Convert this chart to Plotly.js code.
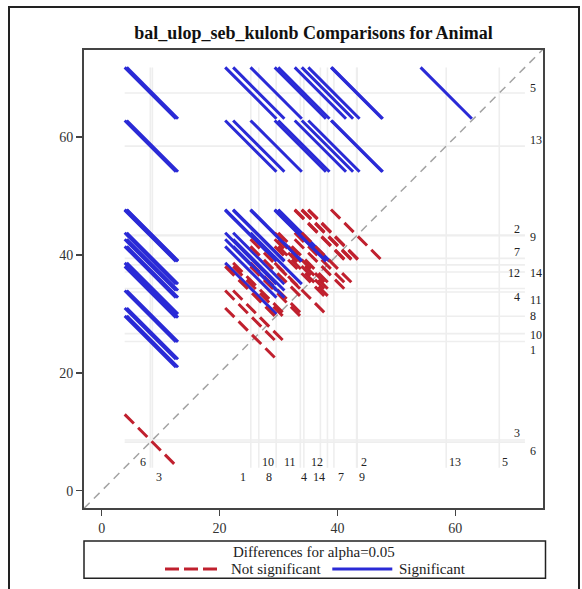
<!DOCTYPE html>
<html>
<head>
<meta charset="utf-8">
<script src="https://cdn.plot.ly/plotly-3.0.1.min.js"></script>
<style>
  html, body { margin: 0; padding: 0; background: #fff; overflow: hidden; }
  #wrap { position: relative; width: 582px; height: 589px; }
  #chart { position: absolute; left: 0; top: 0; width: 582px; height: 589px; }
  #frame { position: absolute; left: 8px; top: 6px; width: 568px; height: 620px;
           border: 2px solid #222; pointer-events: none; }
</style>
</head>
<body>
<div id="wrap">
  <div id="chart"></div>
  <div id="frame"></div>
</div>
<script>
// ---------------- DATA ----------------
const animals = ['1','2','3','4','5','6','7','8','9','10','11','12','13','14'];
const lsmeans = [25.3, 43.35, 8.6, 34.3, 67.45, 8.25, 39.4, 29.6, 43.25, 26.65, 33.7, 37.1, 58.45, 38.3];
// half-width of the 95% confidence interval of a pairwise difference
const diffCI = 8.7;
const alphaLevel = 0.05;

// ---------------- LAYOUT CONSTANTS ----------------
const FONT = 'Liberation Serif, Times New Roman, serif';
const COL_SIG = '#2a2ad6';
const COL_NS = '#c0202e';
const xRange = [-3.0, 74.87];
const yRange = [-2.93, 74.75];
const M = {l: 84, r: 39, t: 50, b: 81};
const W = 582, H = 589;
const plotW = W - M.l - M.r, plotH = H - M.t - M.b;
const pxX = px => (px - M.l) / plotW;          // pixel -> paper x
const pxY = py => (H - M.b - py) / plotH;       // pixel -> paper y

// label placement (pixel shifts relative to the reference line of each animal)
const bottomRow = {'1':2,'2':1,'3':2,'4':2,'5':1,'6':1,'7':2,'8':2,'9':2,'10':1,'11':1,'12':1,'13':1,'14':2};
const bottomShift = {'1':-7.7,'2':6.8,'3':6.6,'4':0,'5':6,'6':-7.7,'7':7.1,'8':-7,'9':5.5,'10':9.7,'11':-10.5,'12':-3.3,'13':8.4,'14':-8.7};
const rightCol = {'1':2,'2':1,'3':1,'4':1,'5':2,'6':2,'7':1,'8':2,'9':2,'10':2,'11':2,'12':1,'13':2,'14':2};
const rightShift = {'1':-8.3,'2':6.2,'3':7,'4':-8.1,'5':5.3,'6':-8.7,'7':6.2,'8':0,'9':-1.2,'10':-1.2,'11':-7.8,'12':-1.2,'13':6.1,'14':-8.3};

// ---------------- TRACES ----------------
const traces = [];
const lo = Math.min(...lsmeans) - diffCI / 2;
const hi = Math.max(...lsmeans) + diffCI / 2;

// reference lines
const refX = [], refY = [];
lsmeans.forEach(m => {
  refX.push(lo, hi, null); refY.push(m, m, null);
  refX.push(m, m, null);   refY.push(lo, hi, null);
});
traces.push({x: refX, y: refY, mode: 'lines', hoverinfo: 'skip', showlegend: false,
  line: {color: '#eeeeee', width: 1.6}});

// diagonal
traces.push({x: [xRange[0], xRange[1]], y: [xRange[0], xRange[1]], mode: 'lines', hoverinfo: 'skip',
  showlegend: false, line: {color: '#a3a3a3', width: 1.5, dash: '8px,6px'}});

// pairwise difference segments
for (let i = 0; i < animals.length; i++) {
  for (let j = i + 1; j < animals.length; j++) {
    const a = Math.min(lsmeans[i], lsmeans[j]);
    const b = Math.max(lsmeans[i], lsmeans[j]);
    const h = diffCI / 2;
    const sig = Math.abs(lsmeans[i] - lsmeans[j]) > diffCI;
    traces.push({
      x: [a - h, a + h], y: [b + h, b - h], mode: 'lines', showlegend: false,
      name: animals[i] + ' vs ' + animals[j],
      line: {color: sig ? COL_SIG : COL_NS, width: 3, dash: sig ? 'solid' : '13px,6px'}
    });
  }
}

// ---------------- ANNOTATIONS ----------------
const ann = [];
const row1Y = (491 - 462.7) / 5.9, row2Y = (491 - 477) / 5.9;
animals.forEach((a, k) => {
  ann.push({x: lsmeans[k], y: bottomRow[a] === 1 ? row1Y : row2Y, xref: 'x', yref: 'y',
    text: a, showarrow: false, xshift: bottomShift[a], xanchor: 'center', yanchor: 'middle',
    font: {family: FONT, size: 12, color: '#222'}});
  const col1 = rightCol[a] === 1;
  ann.push({x: col1 ? (522 - 101.7) / 5.9 : (528.5 - 101.7) / 5.9, y: lsmeans[k], xref: 'x', yref: 'y',
    text: a, showarrow: false, yshift: rightShift[a], xanchor: col1 ? 'right' : 'left', yanchor: 'middle',
    font: {family: FONT, size: 12, color: '#222'}});
});

// legend (drawn manually)
ann.push({x: pxX(313.5), y: pxY(551.5), xref: 'paper', yref: 'paper', showarrow: false,
  text: 'Differences for alpha=' + alphaLevel, xanchor: 'center', yanchor: 'middle',
  font: {family: FONT, size: 15, color: '#222'}});
ann.push({x: pxX(228.5), y: pxY(569), xref: 'paper', yref: 'paper', showarrow: false,
  text: 'Not significant', xanchor: 'left', yanchor: 'middle',
  font: {family: FONT, size: 15, color: '#222'}});
ann.push({x: pxX(397), y: pxY(569), xref: 'paper', yref: 'paper', showarrow: false,
  text: 'Significant', xanchor: 'left', yanchor: 'middle',
  font: {family: FONT, size: 15, color: '#222'}});

const shapes = [
  {type: 'rect', xref: 'paper', yref: 'paper', x0: pxX(84), x1: pxX(545.5), y0: pxY(578.3), y1: pxY(541),
   line: {color: '#222', width: 1.5}, fillcolor: 'rgba(0,0,0,0)'},
  {type: 'line', xref: 'paper', yref: 'paper', x0: pxX(165), x1: pxX(218.3), y0: pxY(569), y1: pxY(569),
   line: {color: COL_NS, width: 3, dash: '14px,5px'}},
  {type: 'line', xref: 'paper', yref: 'paper', x0: pxX(332.3), x1: pxX(392.3), y0: pxY(569), y1: pxY(569),
   line: {color: COL_SIG, width: 3}}
];

const axisCommon = {
  showgrid: false, zeroline: false, showline: true, mirror: true,
  linecolor: '#444', linewidth: 2, ticks: 'outside', ticklen: 6, tickwidth: 1.5, tickcolor: '#444',
  tickvals: [0, 20, 40, 60], tickfont: {family: FONT, size: 14, color: '#333'}
};

const layout = {
  width: W, height: H, margin: M, paper_bgcolor: '#fff', plot_bgcolor: '#fff',
  showlegend: false,
  title: {text: '<b>bal_ulop_seb_kulonb Comparisons for Animal</b>', x: 0.5, xref: 'paper',
    y: 1 - 33 / H, yref: 'container', yanchor: 'middle', font: {family: FONT, size: 18, color: '#111'}},
  xaxis: Object.assign({range: xRange}, axisCommon),
  yaxis: Object.assign({range: yRange}, axisCommon),
  annotations: ann,
  shapes: shapes
};

Plotly.newPlot('chart', traces, layout, {displayModeBar: false, staticPlot: true});
</script>
</body>
</html>
